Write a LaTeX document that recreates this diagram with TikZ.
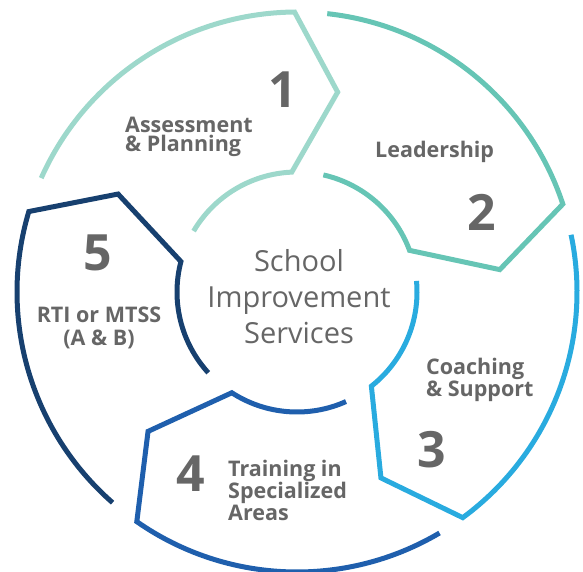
\documentclass[tikz,border=0pt]{standalone}
\usepackage{fontspec}
\setmainfont{Open Sans}
\definecolor{cA}{HTML}{9DD8CB}
\definecolor{cB}{HTML}{66C5B5}
\definecolor{cC}{HTML}{29ABDF}
\definecolor{cD}{HTML}{1F5FAD}
\definecolor{cE}{HTML}{17406F}
\definecolor{txt}{HTML}{666666}
\newcommand\drawseg[2]{%
  \draw[segline,#1] ([shift={(#2+65.5:280)}]C) arc[start angle=#2+65.5, end angle=#2, radius=280]
    -- ([shift={(#2-12:204)}]C) -- ([shift={(#2+2:120)}]C)
    arc[start angle=#2+2, end angle=#2+59, radius=120];}
\begin{document}
\begin{tikzpicture}[x=1pt,y=1pt,
  segline/.style={line width=5pt, line join=miter},
  num/.style={text=txt, font=\fontsize{50}{50}\selectfont\bfseries, inner sep=0pt, anchor=base},
  lab/.style={text=txt, inner sep=0pt},
  center/.style={text=txt, font=\fontsize{29}{36}\selectfont, inner sep=0pt, align=center}]
\useasboundingbox (0,0) rectangle (583,571);
\coordinate (C) at (297,279);
\drawseg{cA}{90.5}
\drawseg{cB}{18.3}
\drawseg{cC}{-53.7}
\drawseg{cD}{-124.9}
\drawseg{cE}{163.3}
\node[center, anchor=base] (title) at (299,228) {School\\Improvement\\Services};
\node[num] (n1) at (283,463) {1};
\node[num] (n2) at (482,341) {2};
\node[num] (n3) at (431.5,104) {3};
\node[num] (n4) at (191,80) {4};
\node[num] (n5) at (97.5,301) {5};
\node[lab, font=\fontsize{21.5}{19.5}\selectfont\bfseries, align=left, anchor=base west] (l1) at (125,419) {Assessment\\\& Planning};
\node[lab, font=\fontsize{21.5}{20}\selectfont\bfseries, anchor=base west] (l2) at (375,413) {Leadership};
\node[lab, font=\fontsize{21.5}{19}\selectfont\bfseries, align=left, anchor=base west] (l3) at (426,175) {Coaching\\\& Support};
\node[lab, font=\fontsize{21.5}{22}\selectfont\bfseries, align=left, anchor=base west] (l4) at (228,51) {Training in\\Specialized\\Areas};
\node[lab, font=\fontsize{21.5}{22.5}\selectfont\bfseries, align=center, anchor=base] (l5) at (99,226) {RTI or MTSS\\(A \& B)};
\end{tikzpicture}
\end{document}
